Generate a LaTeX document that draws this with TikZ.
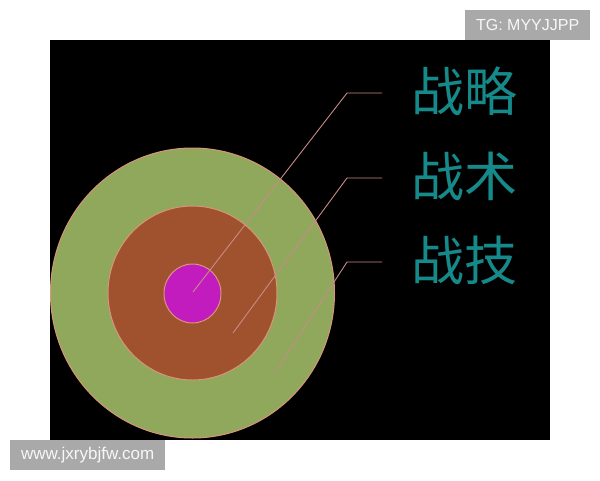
\documentclass[tikz,border=0pt]{standalone}
\usepackage{fontspec}
\setmainfont{Liberation Sans}
\newfontfamily\cjk{Noto Sans CJK SC}
\definecolor{ringg}{HTML}{8FA85C}
\definecolor{ringb}{HTML}{A0522E}
\definecolor{ringm}{HTML}{C21CBE}
\definecolor{rim}{HTML}{D8957A}
\definecolor{leader}{HTML}{C98A88}
\definecolor{teal}{HTML}{168A8A}
\definecolor{wmgray}{HTML}{A9A9A9}
\tikzset{
  ring/.style={draw=rim, line width=1pt},
  leaderline/.style={draw=leader, line width=0.9pt},
  label/.style={font=\cjk\fontsize{53}{60}\selectfont, text=teal, anchor=base, inner sep=0pt},
  wm/.style={fill=wmgray, inner sep=0pt, anchor=north west},
  wmtext/.style={text=white!94!gray, inner sep=0pt}
}
\begin{document}
\begin{tikzpicture}[x=1pt,y=-1pt]
\useasboundingbox (0,0) rectangle (600,480);
\fill[white] (0,0) rectangle (600,480);
\fill[black] (50,40) rectangle (550,440);
\begin{scope}
\clip (50,40) rectangle (550,440);
\path[ring, fill=ringg] (192.5,293) ellipse [x radius=142, y radius=145];
\end{scope}
\path[ring, fill=ringb] (192.5,293) ellipse [x radius=84.5, y radius=87];
\path[ring, fill=ringm] (192.5,293.5) ellipse [x radius=28.5, y radius=29.5];
% text labels
\node[label] (t1) at (464,111) {战略};
\node[label] (t2) at (464,196) {战术};
\node[label] (t3) at (464,280) {战技};
% leader coordinates
\coordinate (e1) at (382,93);
\coordinate (k1) at (347,93);
\coordinate (s1) at (193,292);
\coordinate (e2) at (382,178);
\coordinate (k2) at (347,178);
\coordinate (s2) at (233,333);
\coordinate (e3) at (382,262);
\coordinate (k3) at (347,262);
\coordinate (s3) at (275,373);
\draw[leaderline] (e1) -- (k1) -- (s1);
\draw[leaderline] (e2) -- (k2) -- (s2);
\draw[leaderline] (e3) -- (k3) -- (s3);
% watermarks
\node[wm, minimum width=125pt, minimum height=30pt] (w1) at (465,10) {};
\node[wmtext, font=\fontsize{16}{18}\selectfont] (w1t) at (w1.center) {TG: MYYJJPP};
\node[wm, minimum width=155pt, minimum height=30pt] (w2) at (10,440) {};
\node[wmtext, font=\fontsize{17}{19}\selectfont] (w2t) at (w2.center) {www.jxrybjfw.com};
\end{tikzpicture}
\end{document}
